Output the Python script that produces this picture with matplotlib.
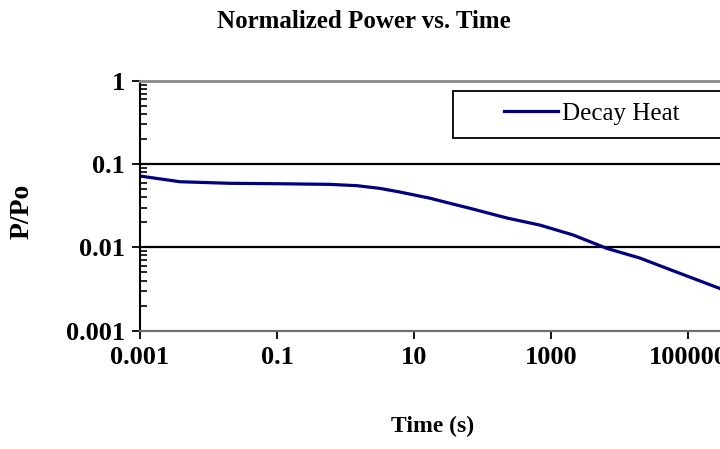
import numpy as np
import matplotlib
matplotlib.use("Agg")
import matplotlib.pyplot as plt
from matplotlib.patches import Rectangle
from matplotlib.ticker import FixedLocator, LogLocator, NullFormatter

plt.rcParams['font.family'] = ['Liberation Serif', 'DejaVu Serif']

# decay heat curve, time in seconds, power as fraction of Po
time_s = [1e-3, 3.84e-3, 2.06e-2, 0.11, 0.594, 1.47, 3.19, 6.25, 17.1, 24,
          72.6, 228, 690, 2094, 6577, 1.99e4, 4.9e4, 2.95e5]
p_over_po = [0.0718, 0.0613, 0.0587, 0.058, 0.057, 0.055, 0.051, 0.0461, 0.0389, 0.0362,
             0.0288, 0.0225, 0.0185, 0.0141, 0.0097, 0.00744, 0.0056, 0.0032]

x_ticks = [1e-3, 1e-1, 1e1, 1e3, 1e5]
x_labels = ['0.001', '0.1', '10', '1000', '100000']
y_ticks = [1e-3, 1e-2, 1e-1, 1]
y_labels = ['0.001', '0.01', '0.1', '1']

W, H = 720, 449
fig = plt.figure(figsize=(W / 100, H / 100), dpi=100)
ax = fig.add_axes([140 / W, 118.3 / H, 685 / W, 250 / H])

ax.plot(time_s, p_over_po, color='#000080', lw=2.3, label='Decay Heat')

ax.set_xscale('log')
ax.set_yscale('log')
ax.set_xlim(1e-3, 1e7)
ax.set_ylim(1e-3, 1)

ax.xaxis.set_major_locator(FixedLocator(x_ticks))
ax.set_xticklabels(x_labels)
ax.xaxis.set_minor_locator(FixedLocator([]))
ax.yaxis.set_major_locator(FixedLocator(y_ticks))
ax.set_yticklabels(y_labels)
ax.yaxis.set_minor_locator(LogLocator(base=10, subs=np.arange(2, 10)))
ax.yaxis.set_minor_formatter(NullFormatter())

ax.tick_params(axis='both', which='major', direction='out', length=6, width=1.3,
               labelsize=19, pad=5)
ax.tick_params(axis='y', which='minor', direction='in', length=5, width=1.2)
for lab in ax.get_xticklabels() + ax.get_yticklabels():
    lab.set_fontweight('bold')

# horizontal gridlines at 0.1 and 0.01
for yv in [1e-1, 1e-2]:
    ax.axhline(yv, color='black', lw=1.6, zorder=1)

ax.spines['left'].set_color('black')
ax.spines['left'].set_linewidth(1.5)
ax.spines['top'].set_color('#888888')
ax.spines['top'].set_linewidth(2)
ax.spines['bottom'].set_color('#707070')
ax.spines['bottom'].set_linewidth(1.6)
ax.spines['right'].set_visible(False)

# legend frame runs off the right edge
box = Rectangle((453 / W, 1 - 138 / H), 300 / W, 47.3 / H, transform=fig.transFigure,
                facecolor='white', edgecolor='black', lw=1.3, zorder=5)
fig.add_artist(box)
leg = fig.legend(loc='center left', bbox_to_anchor=(494 / W, 1 - 114 / H),
                 frameon=False, fontsize=18, handlelength=2.16,
                 handletextpad=0.15, borderaxespad=0)
leg.set_zorder(6)

fig.text(364 / W, 1 - 22 / H, 'Normalized Power vs. Time', ha='center',
         va='center', fontsize=18, fontweight='bold')
fig.text(22 / W, 1 - 211 / H, 'P/Po', ha='center', va='center',
         rotation=90, fontsize=20, fontweight='bold')
fig.text(433 / W, 1 - 426 / H, 'Time (s)', ha='center', va='center',
         fontsize=17, fontweight='bold')

fig.savefig('out.png', dpi=100)
